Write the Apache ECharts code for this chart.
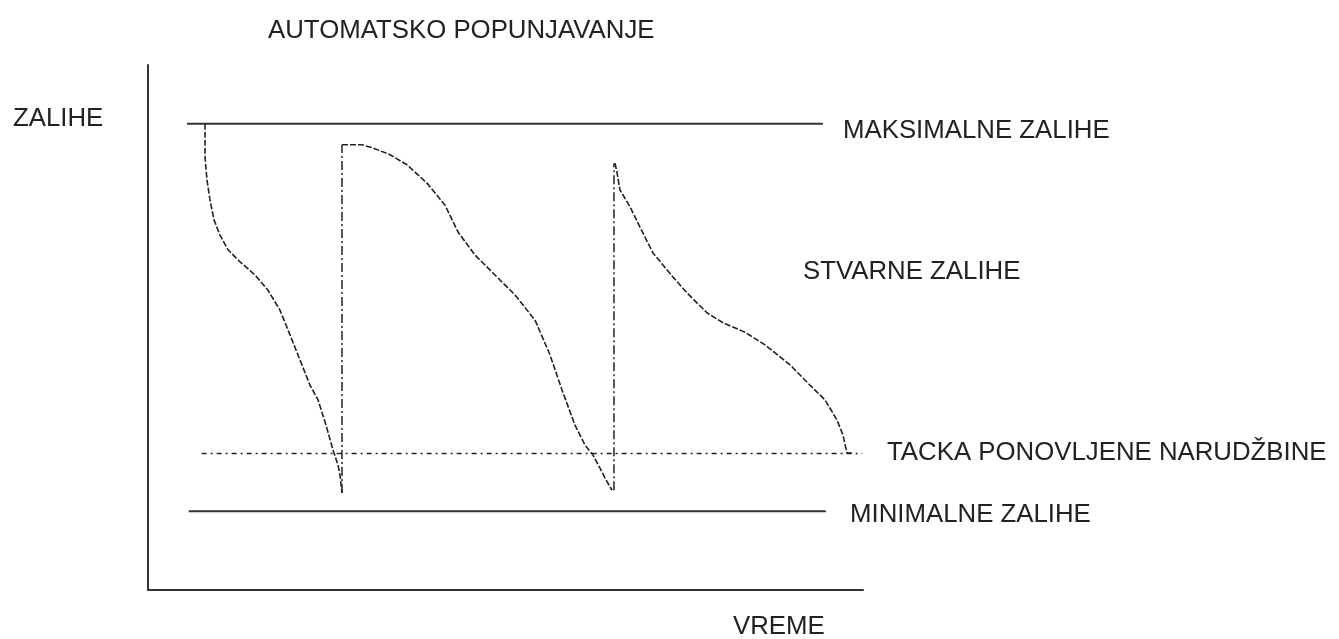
<!DOCTYPE html>
<html>
<head>
<meta charset="utf-8">
<script src="https://cdn.jsdelivr.net/npm/echarts@6/dist/echarts.min.js"></script>
<style>
html,body{margin:0;padding:0;background:#fff;}
#chart{width:1339px;height:639px;}
</style>
</head>
<body>
<div id="chart"></div>
<script>
// ---- data (time 0..100, stock 0..100) ----
const maxLevel = [[5.45, 88.8], [94.4, 88.8]];
const minLevel = [[5.7, 15.0], [94.8, 15.0]];
const reorderLevel = [[7.5, 26.0], [99.9, 26.0]];
const cycle1 = [[7.97,88.8],[7.97,82.5],[8.25,78.1],[8.67,74.3],[9.23,70.5],[10.07,67.6],[11.19,64.8],[12.87,62.5],[14.97,60.0],[16.78,57.1],[18.46,53.3],[19.86,48.6],[21.26,43.8],[22.66,39.0],[23.78,36.2],[24.90,31.4],[25.87,26.7],[26.57,23.8],[26.85,21.9],[27.13,18.5]];
const refill1 = [[27.13,18.5],[27.13,84.8]];
const cycle2 = [[27.13,84.8],[29.93,84.8],[31.47,84.2],[33.85,82.9],[36.22,81.0],[39.02,77.5],[41.54,73.3],[43.36,68.2],[45.73,63.8],[48.53,60.0],[51.33,56.2],[54.13,51.4],[56.22,44.8],[57.90,38.1],[59.72,31.4],[61.12,27.6],[62.24,25.7],[63.22,23.2],[63.92,21.3],[64.90,19.0]];
const refill2 = [[65.17,19.0],[65.17,81.3]];
const cycle3 = [[65.31,81.3],[65.59,79.6],[66.01,76.2],[67.41,73.0],[68.81,69.1],[70.63,64.2],[73.43,59.6],[75.38,56.6],[78.18,52.8],[80.42,50.9],[83.50,49.1],[86.29,46.7],[89.79,42.9],[92.59,39.0],[94.69,36.2],[96.36,32.4],[97.20,29.5],[97.76,26.1],[98.60,26.1]];
const labels = {
  title: 'AUTOMATSKO POPUNJAVANJE',
  yName: 'ZALIHE',
  xName: 'VREME',
  max: 'MAKSIMALNE ZALIHE',
  actual: 'STVARNE ZALIHE',
  reorder: 'TACKA PONOVLJENE NARUDŽBINE',
  min: 'MINIMALNE ZALIHE'
};

const FONT = '"Liberation Sans", Arial, sans-serif';
const TXT = '#222';
const INK = '#222';

function lineSeries(data, style) {
  return {
    type: 'line', data: data, symbol: 'none', silent: true, smooth: false,
    lineStyle: Object.assign({ color: INK, width: 1.5 }, style),
    animation: false
  };
}
function txt(text, x, y) {
  return { type: 'text', x: x, y: y, style: { text: text, font: '25.8px ' + FONT, fill: TXT, verticalAlign: 'middle', align: 'left' } };
}

const chart = echarts.init(document.getElementById('chart'), null, { renderer: 'canvas' });
chart.setOption({
  backgroundColor: '#fff',
  animation: false,
  grid: { left: 148, right: 476, top: 65, bottom: 49, containLabel: false },
  xAxis: {
    type: 'value', min: 0, max: 100,
    axisLine: { show: true, onZero: false, lineStyle: { color: '#333', width: 2 } },
    axisTick: { show: false }, axisLabel: { show: false }, splitLine: { show: false }
  },
  yAxis: {
    type: 'value', min: 0, max: 100,
    axisLine: { show: true, onZero: false, lineStyle: { color: '#333', width: 2 } },
    axisTick: { show: false }, axisLabel: { show: false }, splitLine: { show: false }
  },
  series: [
    lineSeries(maxLevel, { width: 2, color: '#333' }),
    lineSeries(minLevel, { width: 2, color: '#333' }),
    lineSeries(reorderLevel, { width: 1.3, type: [5, 4, 2, 4] }),
    lineSeries(cycle1, { width: 1.6, type: [6, 2] }),
    lineSeries(refill1, { width: 1.5, type: [9, 3, 2, 3] }),
    lineSeries(cycle2, { width: 1.6, type: [6, 2] }),
    lineSeries(refill2, { width: 1.5, type: [9, 3, 2, 3] }),
    lineSeries(cycle3, { width: 1.6, type: [6, 2] })
  ],
  graphic: [
    txt(labels.title, 268, 31),
    txt(labels.yName, 13, 119),
    txt(labels.max, 843, 131),
    txt(labels.actual, 803, 272),
    txt(labels.reorder, 887, 453),
    txt(labels.min, 850, 515),
    txt(labels.xName, 733, 627)
  ]
});
</script>
</body>
</html>
